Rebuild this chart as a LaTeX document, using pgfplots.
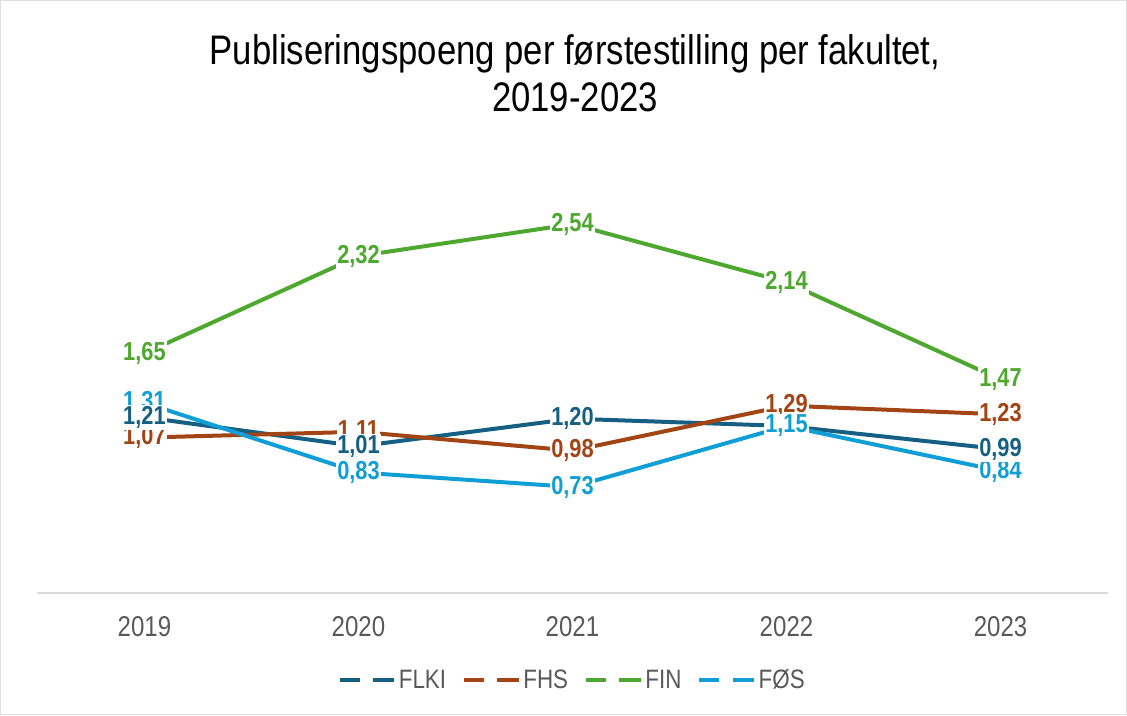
\documentclass[border=0pt]{standalone}
\usepackage{pgfplots}
\pgfplotsset{compat=1.18}
\usepackage{fontspec}
\setmainfont{Liberation Sans}[FakeStretch=0.84]
\definecolor{cFLKI}{HTML}{156082}
\definecolor{cFHS}{HTML}{A24413}
\definecolor{cFIN}{HTML}{4EA72E}
\definecolor{cFOS}{HTML}{0F9ED5}
\definecolor{tickgray}{HTML}{595959}
\definecolor{axgray}{HTML}{D9D9D9}
\begin{document}
\begin{tikzpicture}
\draw[gray!25, line width=0.75pt] (0,0) rectangle (845.25pt,536.25pt);
\node[anchor=base, font=\fontsize{31}{36}\selectfont] at (431.25pt,488pt) {Publiseringspoeng per førstestilling per fakultet,};
\node[anchor=base, font=\fontsize{31}{36}\selectfont] at (431.25pt,453pt) {2019-2023};
\begin{axis}[
  at={(27.75pt,91.5pt)}, anchor=south west,
  scale only axis, width=803.25pt, height=327pt,
  xmin=-0.5, xmax=4.5, ymin=0, ymax=3,
  axis y line=none,
  axis x line*=bottom,
  x axis line style={axgray, line width=1pt, -},
  xtick={0,1,2,3,4},
  xticklabels={2019,2020,2021,2022,2023},
  major tick length=0pt,
  xticklabel style={font=\fontsize{21.5}{24}\selectfont, text=tickgray, anchor=base, yshift=-33pt},
  clip=false,
  legend style={at={(0.5,-0.1995)}, anchor=center, draw=none, legend columns=4,
     font=\fontsize{20}{24}\selectfont, text=tickgray,
     /tikz/every even column/.append style={column sep=10pt}},
  legend image code/.code={
     \draw[#1, line width=3pt] (0pt,0pt) -- (15pt,0pt);
     \draw[#1, line width=3pt] (25pt,0pt) -- (41pt,0pt);},
  label node/.style={draw=none, forget plot, mark=none,
     nodes near coords={\pgfmathprintnumber[assume math mode=true, use comma, fixed, fixed zerofill, precision=2]{\pgfplotspointmeta}},
     nodes near coords align=center,
     every node near coord/.append style={font=\bfseries\fontsize{19.5}{22}\selectfont, fill=white, inner sep=1pt, anchor=center, yshift=0pt}},
]
\addplot[cFLKI, mark=none, line width=3pt] coordinates {(0,1.21) (1,1.01) (2,1.20) (3,1.15) (4,0.99)};
\addlegendentry{FLKI}
\addplot[cFHS, mark=none, line width=3pt] coordinates {(0,1.07) (1,1.11) (2,0.98) (3,1.29) (4,1.23)};
\addlegendentry{FHS}
\addplot[cFIN, mark=none, line width=3pt] coordinates {(0,1.65) (1,2.32) (2,2.54) (3,2.14) (4,1.47)};
\addlegendentry{FIN}
\addplot[cFOS, mark=none, line width=3pt] coordinates {(0,1.31) (1,0.83) (2,0.73) (3,1.15) (4,0.84)};
\addlegendentry{FØS}
\addplot[label node, every node near coord/.append style={text=cFOS}] coordinates {(0,1.31) (1,0.83) (2,0.73) (4,0.84)};
\addplot[label node, every node near coord/.append style={text=cFHS}] coordinates {(0,1.07) (1,1.11) (2,0.98) (3,1.29) (4,1.23)};
\addplot[label node, every node near coord/.append style={text=cFLKI}] coordinates {(0,1.21) (1,1.01) (2,1.20) (3,1.15) (4,0.99)};
\addplot[label node, every node near coord/.append style={text=cFIN}] coordinates {(0,1.65) (1,2.32) (2,2.54) (3,2.14) (4,1.47)};
\addplot[label node, every node near coord/.append style={text=cFOS}] coordinates {(3,1.15)};
\end{axis}
\end{tikzpicture}
\end{document}
